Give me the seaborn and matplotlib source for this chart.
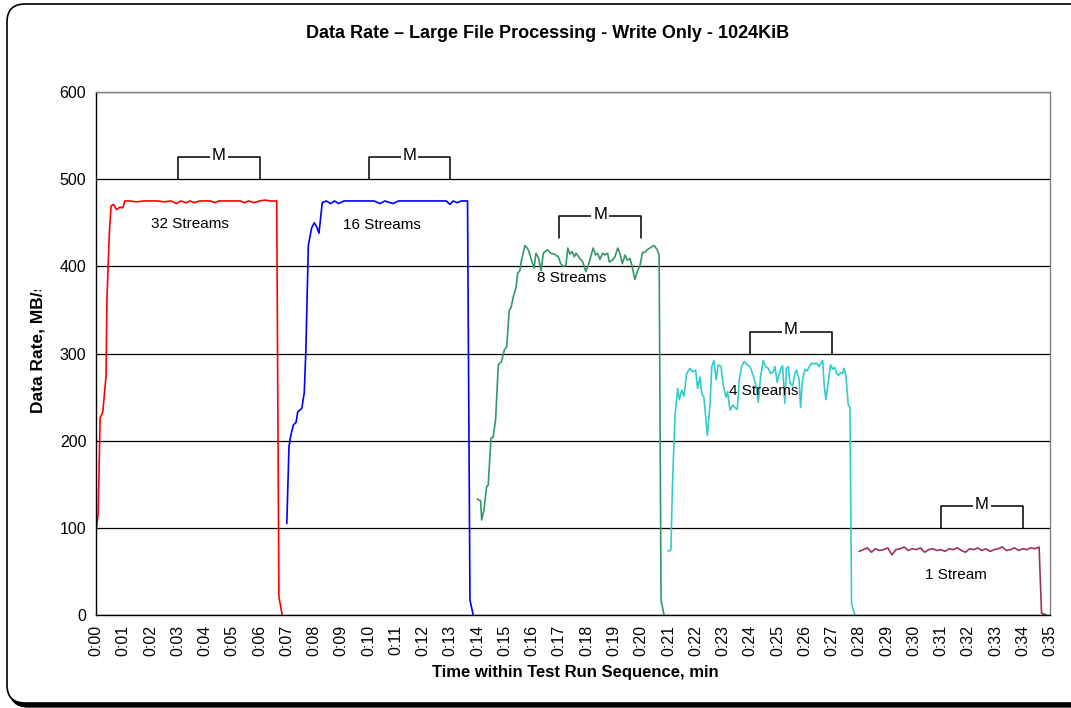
import matplotlib
matplotlib.use("Agg")
import matplotlib.pyplot as plt
from matplotlib.patches import FancyBboxPatch
from matplotlib.transforms import Bbox, IdentityTransform
import pandas as pd
import seaborn as sns

# ---- data (minutes, MB/s) ----
series_names = ["32 Streams", "16 Streams", "8 Streams", "4 Streams", "1 Stream"]
series_colors = ["#FF0000", "#0000FF", "#339966", "#33CCCC", "#993366"]

t32 = [0.00, 0.08, 0.15, 0.25, 0.37, 0.40, 0.49, 0.55, 0.64, 0.76,
       0.88, 0.98, 1.06, 1.25, 1.50, 1.75, 2.00, 2.25, 2.50, 2.75,
       2.96, 3.10, 3.30, 3.45, 3.60, 3.80, 4.00, 4.20, 4.37, 4.50,
       4.70, 4.90, 5.10, 5.30, 5.45, 5.60, 5.80, 6.00, 6.20, 6.40,
       6.63, 6.71, 6.83]
v32 = [94, 117, 226, 233, 275, 361, 438, 469, 471, 465,
       468, 467, 475, 475, 474, 475, 475, 475, 474, 475,
       472, 475, 473, 475, 473, 475, 475, 475, 473, 475,
       475, 475, 475, 475, 473, 475, 473, 475, 476, 475,
       475, 21, 0]

t16 = [7.00, 7.08, 7.14, 7.24, 7.34, 7.40, 7.55, 7.64, 7.70, 7.79,
       7.91, 8.01, 8.10, 8.18, 8.30, 8.45, 8.60, 8.75, 8.90, 9.10,
       9.30, 9.50, 9.75, 10.00, 10.20, 10.42, 10.60, 10.90, 11.10, 11.40,
       11.70, 12.00, 12.30, 12.60, 12.85, 12.99, 13.10, 13.25, 13.40, 13.63,
       13.72, 13.84]
v16 = [105, 193, 205, 218, 221, 233, 237, 255, 304, 424,
       444, 450, 445, 438, 473, 475, 472, 475, 472, 475,
       475, 475, 475, 475, 475, 472, 475, 472, 475, 475,
       475, 475, 475, 475, 475, 471, 475, 473, 475, 475,
       17, 0]

t8 = [13.99, 14.11, 14.15, 14.23, 14.33, 14.39, 14.49, 14.57, 14.66, 14.76,
      14.88, 14.98, 15.07, 15.16, 15.22, 15.31, 15.41, 15.47, 15.55, 15.61,
      15.74, 15.86, 15.96, 16.07, 16.14, 16.23, 16.33, 16.41, 16.56, 16.68,
      16.81, 16.96, 17.05, 17.14, 17.24, 17.31, 17.39, 17.47, 17.55, 17.61,
      17.73, 17.86, 17.97, 18.06, 18.15, 18.24, 18.33, 18.40, 18.49, 18.59,
      18.67, 18.77, 18.83, 18.94, 19.04, 19.14, 19.22, 19.31, 19.41, 19.49,
      19.59, 19.67, 19.77, 19.86, 19.96, 20.05, 20.14, 20.22, 20.32, 20.47,
      20.59, 20.66, 20.73, 20.84]
v8 = [133, 131, 109, 120, 147, 149, 203, 204, 224, 287,
      291, 304, 308, 350, 352, 365, 376, 392, 395, 407,
      424, 419, 409, 398, 415, 410, 395, 415, 419, 415,
      414, 411, 403, 400, 401, 421, 414, 417, 411, 415,
      410, 405, 394, 401, 411, 421, 413, 415, 408, 415,
      413, 415, 405, 407, 411, 421, 415, 403, 413, 407,
      409, 400, 385, 394, 401, 416, 416, 419, 421, 424,
      419, 413, 17, 0]

t4 = [20.99, 21.09, 21.15, 21.24, 21.34, 21.40, 21.49, 21.57, 21.67, 21.79,
      21.89, 22.00, 22.07, 22.16, 22.22, 22.30, 22.43, 22.53, 22.59, 22.67,
      22.75, 22.83, 22.93, 23.01, 23.11, 23.17, 23.26, 23.36, 23.44, 23.53,
      23.60, 23.69, 23.78, 23.89, 23.99, 24.11, 24.21, 24.30, 24.38, 24.48,
      24.57, 24.66, 24.75, 24.85, 24.91, 24.99, 25.07, 25.13, 25.19, 25.27,
      25.33, 25.40, 25.46, 25.56, 25.64, 25.70, 25.79, 25.85, 25.92, 26.01,
      26.09, 26.17, 26.25, 26.34, 26.44, 26.52, 26.60, 26.66, 26.72, 26.78,
      26.86, 26.95, 27.03, 27.11, 27.17, 27.24, 27.32, 27.39, 27.44, 27.51,
      27.60, 27.66, 27.72, 27.84]
v4 = [73, 75, 149, 228, 260, 247, 258, 251, 277, 283,
      279, 281, 260, 273, 254, 250, 206, 243, 285, 292,
      270, 287, 285, 264, 250, 256, 235, 241, 238, 236,
      270, 285, 291, 287, 285, 275, 264, 244, 273, 292,
      285, 283, 277, 279, 285, 267, 277, 283, 286, 243,
      283, 285, 266, 263, 277, 281, 271, 238, 270, 282,
      280, 285, 289, 288, 289, 285, 289, 292, 262, 247,
      266, 287, 282, 284, 277, 275, 278, 277, 283, 275,
      241, 238, 13, 0]

t1 = [28.00, 28.15, 28.30, 28.45, 28.60, 28.75, 28.90, 29.05, 29.20, 29.35,
      29.50, 29.65, 29.80, 29.95, 30.10, 30.25, 30.40, 30.55, 30.70, 30.85,
      31.00, 31.15, 31.30, 31.45, 31.60, 31.75, 31.90, 32.05, 32.20, 32.35,
      32.50, 32.65, 32.80, 32.95, 33.10, 33.25, 33.40, 33.55, 33.70, 33.85,
      34.00, 34.15, 34.30, 34.45, 34.60, 34.69, 34.87]
v1 = [73, 75, 77, 72, 76, 74, 75, 77, 69, 75,
      76, 78, 74, 76, 75, 77, 72, 75, 76, 74,
      75, 73, 76, 75, 77, 74, 72, 76, 75, 77,
      74, 76, 73, 75, 76, 78, 74, 75, 77, 74,
      76, 75, 77, 76, 78, 2, 0]

# measurement windows ("M" brackets) and series label anchors
m_start = [3, 10, 17, 24, 31]
m_base = [500, 500, 433, 300, 100]
label_t = [3.45, 10.48, 17.45, 24.48, 31.55]
label_v = [448, 447, 387, 257, 46]

x_ticks = list(range(0, 36))
x_tick_labels = [f"0:{m:02d}" for m in x_ticks]
y_ticks = [0, 100, 200, 300, 400, 500, 600]

frames = []
for name, t, v in zip(series_names,
                      [t32, t16, t8, t4, t1],
                      [v32, v16, v8, v4, v1]):
    frames.append(pd.DataFrame({"minute": t, "rate": v, "series": name}))
df = pd.concat(frames, ignore_index=True)

sns.set_style("white")
plt.rcParams["font.family"] = ["Liberation Sans", "DejaVu Sans"]
plt.rcParams["text.color"] = "black"
plt.rcParams["xtick.color"] = "black"
plt.rcParams["ytick.color"] = "black"

fig = plt.figure(figsize=(10.71, 7.08), dpi=100)
ax = fig.add_axes([96 / 1071, 1 - 615 / 708, 954 / 1071, 523 / 708])

sns.lineplot(data=df, x="minute", y="rate", hue="series",
             palette=dict(zip(series_names, series_colors)),
             estimator=None, sort=False, linewidth=1.2, legend=False, ax=ax)

# gridlines + axes look (Excel style)
ax.set_xlim(0, 35)
ax.set_ylim(0, 600)
ax.set_xticks(x_ticks)
ax.set_xticklabels(x_tick_labels, rotation=90, fontsize=11.5)
ax.set_yticks(y_ticks)
ax.set_yticklabels([str(y) for y in y_ticks], fontsize=11.5)
ax.yaxis.grid(True, color="black", linewidth=0.9)
ax.xaxis.grid(False)
ax.tick_params(axis="both", direction="out", length=4, width=0.9,
               color="black", labelcolor="black", pad=3)
ax.spines["left"].set_color("black")
ax.spines["bottom"].set_color("black")
ax.spines["top"].set_color("#808080")
ax.spines["right"].set_color("#808080")
for sp in ax.spines.values():
    sp.set_linewidth(1.0)
ax.set_xlabel("")
ax.set_ylabel("")

# "M" brackets
for s, b in zip(m_start, m_base):
    top = b + 25
    ax.plot([s, s, s + 3, s + 3], [b, top, top, b], color="black", linewidth=1.1)
    ax.text(s + 1.5, top + 2, "M", ha="center", va="center", fontsize=12,
            color="black",
            bbox=dict(facecolor="white", edgecolor="none", pad=1.5))

for name, t, v in zip(series_names, label_t, label_v):
    ax.text(t, v, name, ha="center", va="center", fontsize=11, color="black")

fig.text(548 / 1071, 1 - 33 / 708,
         "Data Rate \u2013 Large File Processing - Write Only - 1024KiB",
         ha="center", va="center", fontsize=13, fontweight="bold", color="black")
fig.text(575 / 1071, 1 - 673 / 708, "Time within Test Run Sequence, min",
         ha="center", va="center", fontsize=12, fontweight="bold", color="black")
ylab = fig.text(38 / 1071, 1 - 413 / 708, "Data Rate, MB/s", rotation=90,
                ha="center", va="bottom", fontsize=12.5, fontweight="bold",
                color="black")
# the original label is cut off at the top
ylab.set_clip_box(Bbox([[0, 0], [1071, 708 - 290]]))
ylab.set_clip_on(True)

# rounded chart frame with shadow
shadow = FancyBboxPatch((10, 1), 1100, 699,
                        boxstyle="round,pad=0,rounding_size=18",
                        transform=IdentityTransform(), facecolor="black",
                        edgecolor="black", zorder=-2)
frame = FancyBboxPatch((7, 5), 1100, 699,
                       boxstyle="round,pad=0,rounding_size=18",
                       transform=IdentityTransform(), facecolor="white",
                       edgecolor="black", linewidth=1.2, zorder=-1)
fig.add_artist(shadow)
fig.add_artist(frame)

fig.savefig("out.png", dpi=100, facecolor="white")
plt.close(fig)
